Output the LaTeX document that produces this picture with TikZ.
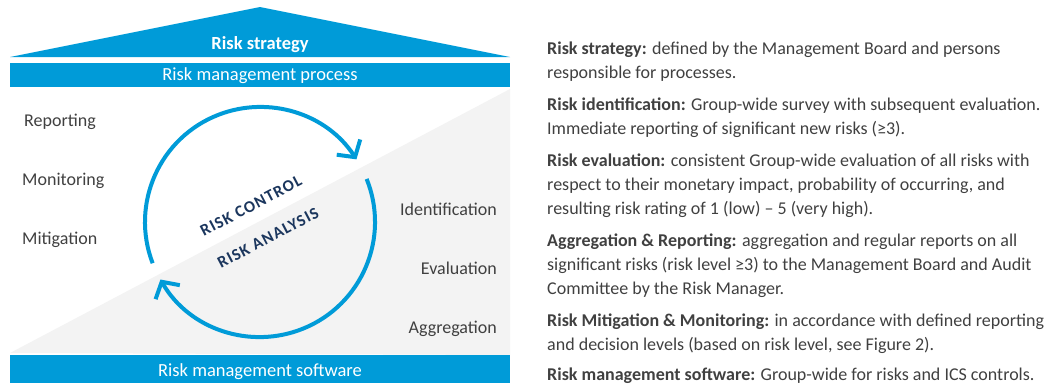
\documentclass[tikz,border=0pt]{standalone}
\usepackage{fontspec}
\setmainfont{Carlito}
\newfontfamily\capsfont[LetterSpace=7]{Carlito}
\usetikzlibrary{arrows.meta}

\definecolor{riskblue}{RGB}{0,155,216}
\definecolor{risknavy}{RGB}{27,54,93}
\definecolor{riskgray}{RGB}{243,243,243}
\definecolor{risktext}{RGB}{64,64,64}

\tikzset{
  band/.style={fill=riskblue},
  bandlabel/.style={text=white, inner sep=0pt, anchor=base, font=\fontsize{18.5}{22}\selectfont},
  steplabel/.style={text=risktext, inner sep=0pt, font=\fontsize{18}{22}\selectfont},
  cyclearc/.style={riskblue, line width=4pt, -{Straight Barb[length=12pt,width=28pt]}},
  core/.style={text=risknavy, inner sep=0pt, rotate=27.75, font=\capsfont\bfseries\fontsize{16.5}{20}\selectfont},
  desc/.style={text=risktext, inner sep=0pt, anchor=base west, align=left, font=\fontsize{18}{24}\selectfont}
}

\begin{document}
\begin{tikzpicture}[x=1pt,y=-1pt]
  \useasboundingbox (0,0) rectangle (1064,383);
  % Coordonnées
  \coordinate (C) at (260,222);

  % Fond gris sous la diagonale
  \fill[riskgray] (10,353) -- (510,89) -- (510,355) -- cycle;

  % Toit : stratégie
  \fill[band] (10,57) -- (260,7) -- (510,57) -- cycle;
  \node[bandlabel, font=\bfseries\fontsize{18.5}{22}\selectfont] (strategy) at (260,49) {Risk strategy};

  % Bandes processus et logiciel
  \fill[band] (10,63) rectangle (510,87);
  \node[bandlabel] (process) at (260,80) {Risk management process};
  \fill[band] (10,355) rectangle (510,383);
  \node[bandlabel] (software) at (260,376) {Risk management software};

  % Cycle (deux arcs fléchés)
  \draw[cyclearc] (C) ++(159:115) arc[start angle=159, end angle=327, radius=115];
  \draw[cyclearc] (C) ++(-22:115) arc[start angle=-22, end angle=150, radius=115];
  \node[core] (control) at (251,206) {RISK CONTROL};
  \node[core] (analysis) at (268,238) {RISK ANALYSIS};

  % Étapes à gauche et à droite
  \node[steplabel, anchor=base west] (reporting) at (24,126) {Reporting};
  \node[steplabel, anchor=base west] (monitoring) at (22,185) {Monitoring};
  \node[steplabel, anchor=base west] (mitigation) at (22,244) {Mitigation};
  \node[steplabel, anchor=base east] (identification) at (497,215) {Identification};
  \node[steplabel, anchor=base east] (evaluation) at (497,274) {Evaluation};
  \node[steplabel, anchor=base east] (aggregation) at (497,333) {Aggregation};

  % Descriptions (ancrées sur la dernière ligne)
  \node[desc] (d-strategy) at (547,78) {\textbf{Risk strategy:} defined by the Management Board and persons\\responsible for processes.};
  \node[desc] (d-identification) at (547,134) {\textbf{Risk identification:} Group-wide survey with subsequent evaluation.\\Immediate reporting of significant new risks (≥3).};
  \node[desc] (d-evaluation) at (547,214) {\textbf{Risk evaluation:} consistent Group-wide evaluation of all risks with\\respect to their monetary impact, probability of occurring, and\\resulting risk rating of 1 (low) – 5 (very high).};
  \node[desc] (d-aggregation) at (547,294) {\textbf{Aggregation \& Reporting:} aggregation and regular reports on all\\significant risks (risk level ≥3) to the Management Board and Audit\\Committee by the Risk Manager.};
  \node[desc] (d-mitigation) at (547,350) {\textbf{Risk Mitigation \& Monitoring:} in accordance with defined reporting\\and decision levels (based on risk level, see Figure 2).};
  \node[desc] (d-software) at (547,380) {\textbf{Risk management software:} Group-wide for risks and ICS controls.};
\end{tikzpicture}
\end{document}
